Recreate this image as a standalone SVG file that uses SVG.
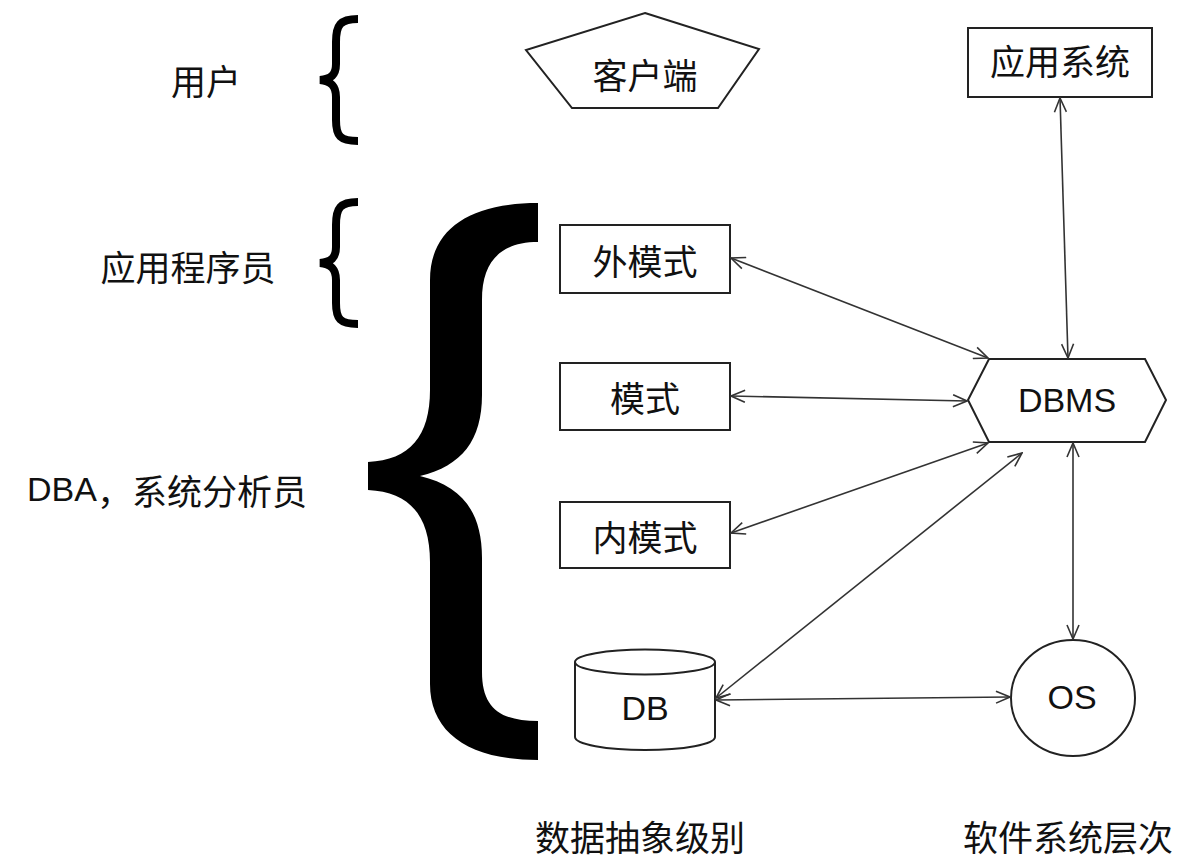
<svg xmlns="http://www.w3.org/2000/svg" width="1189" height="860" viewBox="0 0 1189 860">
<style>
.t{font-family:"Noto Sans CJK SC","Liberation Sans",sans-serif;font-size:35px;fill:#111;dominant-baseline:central;text-anchor:middle}
.l{font-family:"Liberation Sans","Noto Sans CJK SC",sans-serif;font-size:34px;fill:#111;dominant-baseline:central;text-anchor:middle}
.s{fill:#fff;stroke:#222;stroke-width:2}
.c{fill:none;stroke:#333;stroke-width:1.6;marker-start:url(#a);marker-end:url(#a)}
.br{fill:none;stroke:#000;stroke-width:8}
</style>
<defs>
<marker id="a" viewBox="0 0 16 14" refX="15" refY="7" markerWidth="16" markerHeight="14" markerUnits="userSpaceOnUse" orient="auto-start-reverse">
<path d="M1,1 L15,7 L1,13" fill="none" stroke="#333" stroke-width="1.6"/>
</marker>
</defs>
<rect width="1189" height="860" fill="#fff"/>
<g id="label-user"><text class="t" x="206" y="79">用户</text></g>
<g id="label-programmer"><text class="t" x="188" y="265">应用程序员</text></g>
<g id="label-dba"><text class="l" x="167" y="489"><tspan>DBA</tspan><tspan style="font-family:'Noto Sans CJK SC',sans-serif;font-size:35px">，系统分析员</tspan></text></g>
<g id="brace-user"><path class="br" d="M358 19 C340 19,336 25,336 42 L336 64 C336 75,331 79,320 80 C331 81,336 86,336 97 L336 120 C336 136,340 141,358 141"/></g>
<g id="brace-programmer"><path class="br" d="M358 202 C340 202,336 208,336 225 L336 247 C336 258,331 262,320 263 C331 264,336 269,336 280 L336 303 C336 319,340 324,358 324"/></g>
<g id="brace-dba"><path fill="#000" d="M538 203 L538 242 C500 242,482 262,482 300 L482 395 C482 440,462 466,420 476 C462 486,482 512,482 558 L482 672 C482 708,500 721,538 721 L538 760 C468 760,430 732,430 684 L430 562 C430 516,410 492,368 490 L368 462 C410 460,430 436,430 390 L430 280 C430 230,468 203,538 203 Z"/></g>
<g id="client"><polygon class="s" points="645,13 759,49 718,108 572,108 526,50"/><text class="t" x="645" y="73">客户端</text></g>
<g id="appsys"><rect class="s" x="968" y="28" width="184" height="69"/><text class="t" x="1060" y="59">应用系统</text></g>
<g id="external"><rect class="s" x="560" y="225" width="170" height="68"/><text class="t" x="645" y="259">外模式</text></g>
<g id="schema"><rect class="s" x="560" y="363" width="170" height="67"/><text class="t" x="645" y="396">模式</text></g>
<g id="internal"><rect class="s" x="560" y="502" width="170" height="66"/><text class="t" x="645" y="535">内模式</text></g>
<g id="dbms"><polygon class="s" points="968,400 989,359 1145,359 1166,400 1145,442 989,442"/><text class="l" x="1067" y="400">DBMS</text></g>
<g id="db"><path class="s" d="M575 662 L575 737 A70 13 0 0 0 715 737 L715 662"/><ellipse class="s" cx="645" cy="662" rx="70" ry="12.5"/><text class="l" x="645" y="708">DB</text></g>
<g id="os"><ellipse class="s" cx="1073" cy="698" rx="62" ry="58"/><text class="l" x="1072" y="697">OS</text></g>
<g id="label-abstract"><text class="t" x="640" y="835">数据抽象级别</text></g>
<g id="label-software"><text class="t" x="1068" y="835">软件系统层次</text></g>
<g id="connectors">
<line class="c" x1="1060" y1="98" x2="1068" y2="358"/>
<line class="c" x1="731" y1="258" x2="988" y2="358"/>
<line class="c" x1="731" y1="396" x2="967" y2="401"/>
<line class="c" x1="731" y1="533" x2="988" y2="443"/>
<line class="c" x1="716" y1="698" x2="1022" y2="453"/>
<line class="c" x1="716" y1="700" x2="1010" y2="697"/>
<line class="c" x1="1073" y1="443" x2="1073" y2="639"/>
</g>
</svg>
